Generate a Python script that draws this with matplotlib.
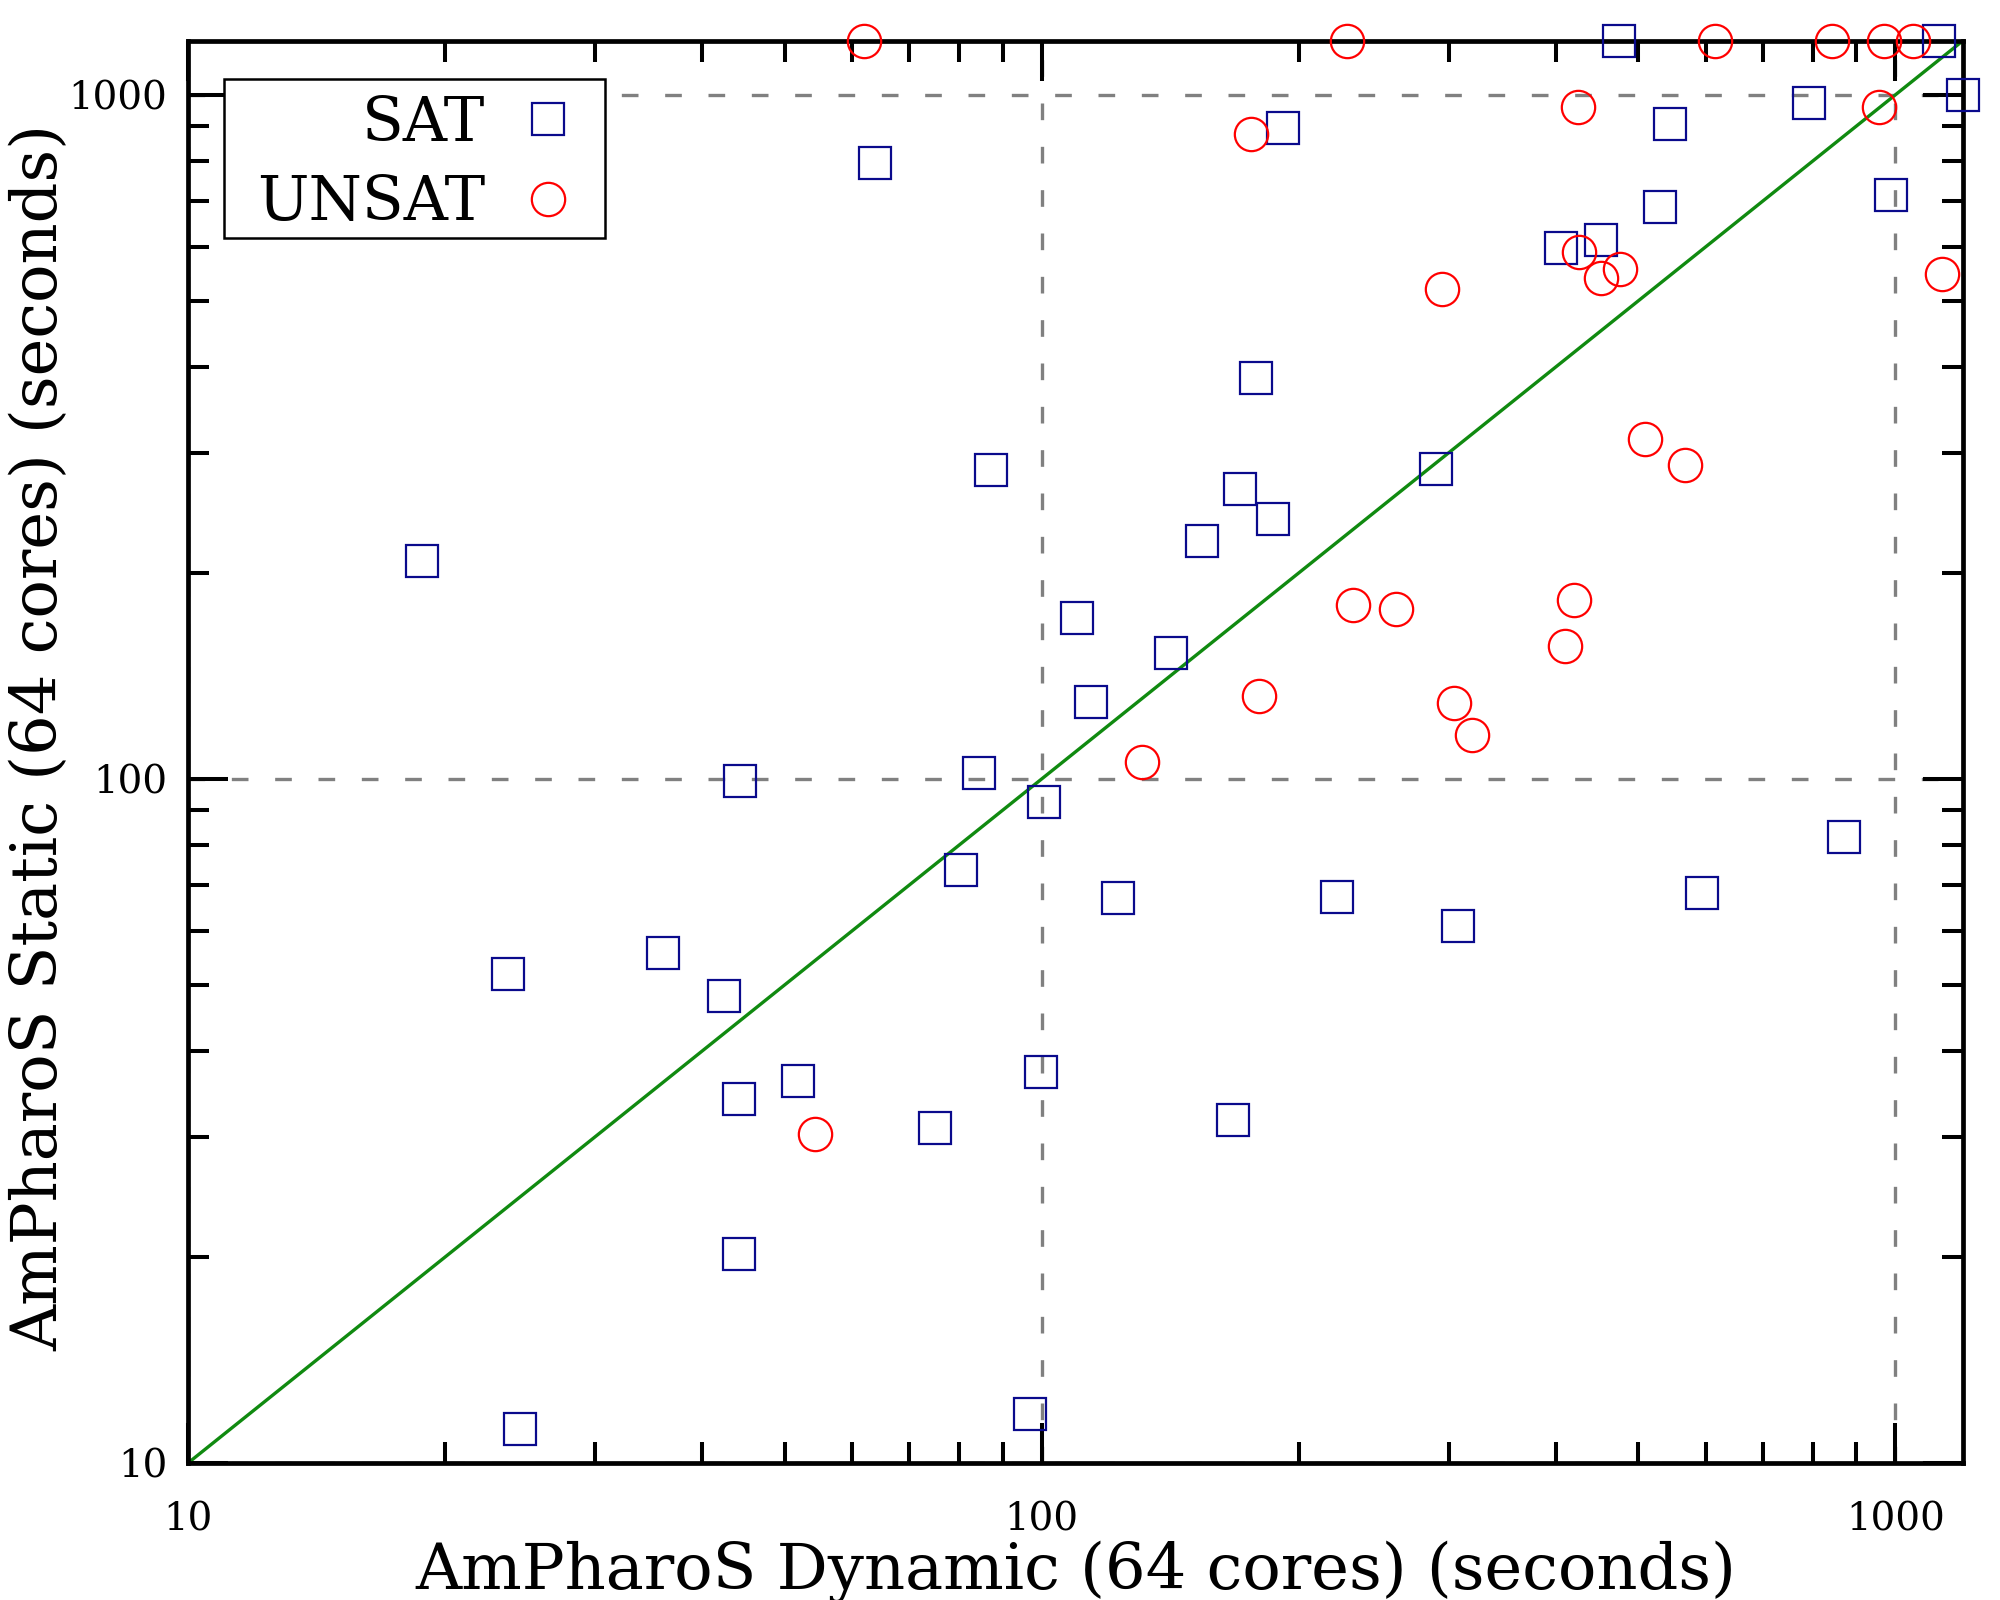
import matplotlib
matplotlib.use("Agg")
import matplotlib.pyplot as plt
from matplotlib import ticker
from matplotlib.path import Path
import numpy as np

# ---------------- data ----------------
sat_dynamic = [18.8, 63.8, 44.3, 84.5, 87.3, 100.7, 80.4, 122.7, 36.0, 23.7,
               42.5, 51.8, 44.2, 74.9, 99.8, 167.5, 44.2, 24.5, 96.8, 110.1,
               114.1, 141.7, 154.0, 170.9, 186.6, 178.4, 191.9, 290.0, 222.0, 307.6,
               406.2, 452.6, 529.7, 544.4, 474.3, 792.9, 594.0, 871.0, 988.0, 1126.0,
               1200.0]
sat_static = [208, 796, 99.4, 102, 283, 92.4, 73.6, 66.9, 55.7, 51.8,
              48.1, 36.2, 34.0, 30.9, 37.3, 31.7, 20.2, 11.2, 11.8, 172,
              129.6, 153, 222.4, 265, 239.6, 385, 894, 283.6, 67.2, 60.9,
              597.6, 612.5, 685, 905, 1200, 973, 68.1, 82.2, 713, 1200,
              1000]

unsat_dynamic = [62.0, 227.6, 615, 843, 970.5, 1050, 176, 425.3, 957, 294,
                 426.3, 451.8, 475.8, 1135, 508.8, 567.5, 231.3, 260, 419.8, 410.4,
                 179.9, 303.7, 319.3, 131.2, 54.3]
unsat_static = [1200, 1200, 1200, 1200, 1200, 1200, 877, 961, 961, 520,
                589.7, 539.6, 556.3, 547, 314, 288, 179.5, 176.9, 182.6, 156.3,
                132.1, 128.9, 115.8, 105.9, 30.3]

axis_limits = [10, 1200]
series_labels = ["SAT", "UNSAT"]
x_label = "AmPharoS Dynamic (64 cores) (seconds)"
y_label = "AmPharoS Static (64 cores) (seconds)"

# ---------------- style ----------------
plt.rcParams['font.family'] = ['DejaVu Serif']
BLUE = '#0a0a8c'
RED = '#ff0000'
GREEN = '#108a10'
GRAY = '#808080'

fig = plt.figure(figsize=(20, 16), dpi=100)
ax = fig.add_axes([0.094, 0.0856, 0.8875, 0.889])
ax.set_xscale('log')
ax.set_yscale('log')
ax.set_xlim(axis_limits)
ax.set_ylim(axis_limits)

# diagonal reference line y = x
ax.plot(axis_limits, axis_limits, color=GREEN, lw=2.4, zorder=2)

ax.plot(sat_dynamic, sat_static, ls='none', marker='s', ms=23.5,
        mfc='none', mec=BLUE, mew=1.6, clip_on=False, zorder=4,
        label=series_labels[0])
ax.plot(unsat_dynamic, unsat_static, ls='none', marker='o', ms=24,
        mfc='none', mec=RED, mew=1.6, clip_on=False, zorder=4,
        label=series_labels[1])

# grid
ax.grid(True, which='major', color=GRAY, lw=2.4, ls=(0, (5.0, 8.0)))
ax.grid(False, which='minor')
ax.set_axisbelow(True)

for sp in ax.spines.values():
    sp.set_linewidth(3.4)
    sp.set_zorder(3)

ax.tick_params(which='both', direction='in', top=True, right=True, color='black')
ax.tick_params(which='major', length=29, width=2.9, labelsize=28)
ax.tick_params(axis='x', which='major', pad=28)
ax.tick_params(axis='y', which='major', pad=15)
ax.tick_params(which='minor', length=15, width=2.9)

fmt = ticker.FuncFormatter(lambda v, p: f"{v:g}")
ax.xaxis.set_major_formatter(fmt)
ax.yaxis.set_major_formatter(fmt)
ax.xaxis.set_minor_formatter(ticker.NullFormatter())
ax.yaxis.set_minor_formatter(ticker.NullFormatter())

ax.set_xlabel(x_label, fontsize=46, va='center', ha='center')
ax.xaxis.set_label_coords(0.5, -0.0765)
ax.set_ylabel(y_label, fontsize=46, va='center', ha='center')
ax.yaxis.set_label_coords(-0.0835, 0.51)

# legend (gnuplot style: text then marker)
leg = ax.legend(loc='upper left', bbox_to_anchor=(242 / 2000, 1 - 79 / 1600),
                bbox_transform=fig.transFigure, borderaxespad=0,
                markerfirst=False, fontsize=44, frameon=True, fancybox=False,
                framealpha=1, edgecolor='black', borderpad=0.24,
                labelspacing=0.32, handlelength=1.0, handletextpad=0.53)
leg.get_frame().set_linewidth(1.8)
for col in leg._legend_handle_box.get_children():
    col.align = 'right'


def legend_box(x0, y0, width, height, mutation_size):
    left = x0 - 0.30 * mutation_size
    right = x0 + width + 0.20 * mutation_size
    bottom = y0 + 0.16 * mutation_size
    top = y0 + height
    verts = [(left, bottom), (right, bottom), (right, top), (left, top),
             (left, bottom)]
    return Path(verts, closed=True)


leg.legendPatch.set_boxstyle(legend_box)
leg.set_zorder(5)

fig.savefig('out.png', dpi=100, facecolor='white')
